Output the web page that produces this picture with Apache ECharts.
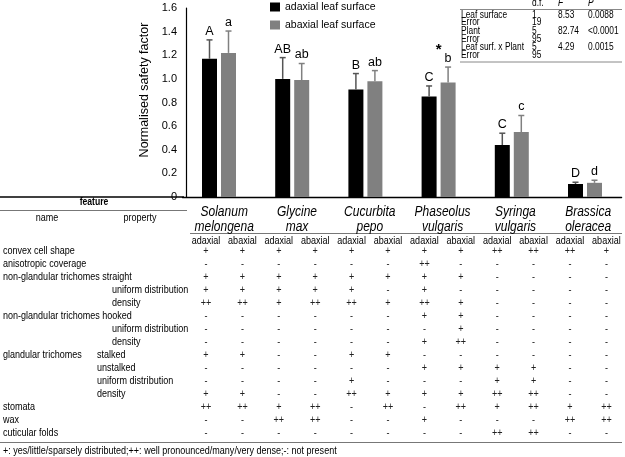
<!DOCTYPE html>
<html>
<head>
<meta charset="utf-8">
<script src="https://cdn.jsdelivr.net/npm/echarts@6/dist/echarts.min.js"></script>
<style>html,body{margin:0;padding:0;background:#fff}#c{width:625px;height:457px}</style>
</head>
<body>
<div id="c"></div>
<script>
// ---------- data ----------
const categories = ['Solanum melongena', 'Glycine max', 'Cucurbita pepo', 'Phaseolus vulgaris', 'Syringa vulgaris', 'Brassica oleracea'];
const seriesNames = ['adaxial leaf surface', 'abaxial leaf surface'];
const adaxialMean = [1.17, 1.00, 0.91, 0.85, 0.44, 0.11];
const adaxialSD   = [0.16, 0.18, 0.135, 0.09, 0.10, 0.015];
const abaxialMean = [1.22, 0.99, 0.98, 0.97, 0.55, 0.12];
const abaxialSD   = [0.185, 0.14, 0.09, 0.13, 0.14, 0.022];
const adaxialLetters = ['A', 'AB', 'B', 'C', 'C', 'D'];
const abaxialLetters = ['a', 'ab', 'ab', 'b', 'c', 'd'];
const interactionMarks = ['', '', '', '*', '', ''];
const yTicks = [0, 0.2, 0.4, 0.6, 0.8, 1.0, 1.2, 1.4, 1.6];

const anovaHeader = ['d.f.', 'F', 'P'];
const anovaSource = ['Leaf surface', 'Error', 'Plant', 'Error', 'Leaf surf. x Plant', 'Error'];
const anovaDf = ['1', '19', '5', '95', '5', '95'];
const anovaF = ['8.53', '', '82.74', '', '4.29', ''];
const anovaP = ['0.0088', '', '<0.0001', '', '0.0015', ''];

const surfaceCols = ['adaxial', 'abaxial'];
const featureNames = ['convex cell shape', 'anisotropic coverage', 'non-glandular trichomes straight', '', '',
  'non-glandular trichomes hooked', '', '', 'glandular trichomes', '', '', '', 'stomata', 'wax', 'cuticular folds'];
const featureProps = ['', '', '', 'uniform distribution', 'density', '', 'uniform distribution', 'density',
  'stalked', 'unstalked', 'uniform distribution', 'density', '', '', ''];
const featureValues = [
  ['+', '+', '+', '+', '+', '+', '+', '+', '++', '++', '++', '+'],
  ['-', '-', '-', '-', '-', '-', '++', '-', '-', '-', '-', '-'],
  ['+', '+', '+', '+', '+', '+', '+', '+', '-', '-', '-', '-'],
  ['+', '+', '+', '+', '+', '-', '+', '-', '-', '-', '-', '-'],
  ['++', '++', '+', '++', '++', '+', '++', '+', '-', '-', '-', '-'],
  ['-', '-', '-', '-', '-', '-', '+', '+', '-', '-', '-', '-'],
  ['-', '-', '-', '-', '-', '-', '-', '+', '-', '-', '-', '-'],
  ['-', '-', '-', '-', '-', '-', '+', '++', '-', '-', '-', '-'],
  ['+', '+', '-', '-', '+', '+', '-', '-', '-', '-', '-', '-'],
  ['-', '-', '-', '-', '-', '-', '+', '+', '+', '+', '-', '-'],
  ['-', '-', '-', '-', '+', '-', '-', '-', '+', '+', '-', '-'],
  ['+', '+', '-', '-', '++', '+', '+', '+', '++', '++', '-', '-'],
  ['++', '++', '+', '++', '-', '++', '-', '++', '+', '++', '+', '++'],
  ['-', '-', '++', '++', '-', '-', '+', '-', '-', '-', '++', '++'],
  ['-', '-', '-', '-', '-', '-', '-', '-', '++', '++', '-', '-']
];
const footnote = '+: yes/little/sparsely distributed;++: well pronounced/many/very dense;-: not present';

// ---------- layout / style ----------
const FONT = "'Liberation Sans', Arial, Helvetica, sans-serif";
const BAR_W = 15, BAR_GAP_PX = 4;
const OFF = (BAR_W + BAR_GAP_PX) / 2;
const colX0 = 206, colStep = 36.4;
const rowY0 = 251, rowStep = 13;
const propIndent = [0, 0, 0, 112, 112, 0, 112, 112, 97, 97, 97, 97, 0, 0, 0];

function txt(text, x, y, opt) {
  opt = opt || {};
  return {
    type: 'text', x: x, y: y, scaleX: opt.sx || 1, rotation: opt.rot || 0, silent: true, z: 10,
    style: {
      text: text, fill: opt.color || '#000',
      font: (opt.italic ? 'italic ' : '') + (opt.bold ? 'bold ' : '') + (opt.size || 10) + 'px ' + FONT,
      textAlign: opt.align || 'left', textVerticalAlign: 'middle',
      align: opt.align || 'left', verticalAlign: 'middle'
    }
  };
}
function hline(x1, x2, y, color, w) {
  return { type: 'line', silent: true, z: 5, shape: { x1: x1, y1: y, x2: x2, y2: y }, style: { stroke: color, lineWidth: w } };
}

const graphics = [];
// y axis title
graphics.push(txt('Normalised safety factor', 145, 90, { size: 12.5, align: 'center', rot: Math.PI / 2 }));
// axis baseline extension into table header
graphics.push(hline(0, 184, 197, '#000', 1.3));
// ANOVA table
const aX = [461, 532, 558, 588];
const AS = { size: 10, sx: 0.84 };
graphics.push(txt(anovaHeader[0], aX[1], 3.5, AS));
graphics.push(txt(anovaHeader[1], aX[2], 3.5, Object.assign({ italic: true }, AS)));
graphics.push(txt(anovaHeader[2], aX[3], 3.5, Object.assign({ italic: true }, AS)));
graphics.push(hline(460, 622, 9.5, '#888', 1));
const aY = [15, 22.5, 31.5, 39, 47.5, 55];
anovaSource.forEach((s, i) => {
  graphics.push(txt(s, aX[0], aY[i], AS));
  graphics.push(txt(anovaDf[i], aX[1], aY[i], AS));
  if (anovaF[i]) graphics.push(txt(anovaF[i], aX[2], aY[i], AS));
  if (anovaP[i]) graphics.push(txt(anovaP[i], aX[3], aY[i], AS));
});
graphics.push(hline(460, 622, 62, '#888', 1));

// feature table header
const TS = { size: 11, sx: 0.82 };
graphics.push(txt('feature', 94, 202, { size: 10.5, sx: 0.82, bold: true, align: 'center' }));
graphics.push(hline(0, 187, 210.5, '#777', 1));
graphics.push(txt('name', 47, 218, Object.assign({ align: 'center' }, TS)));
graphics.push(txt('property', 140, 218, Object.assign({ align: 'center' }, TS)));
categories.forEach((c, k) => {
  const parts = c.split(' ');
  const cx = colX0 + colStep * (2 * k + 0.5);
  graphics.push(txt(parts[0], cx, 212, { size: 15, sx: 0.8, italic: true, align: 'center' }));
  graphics.push(txt(parts[1], cx, 227, { size: 15, sx: 0.8, italic: true, align: 'center' }));
});
graphics.push(hline(190, 622, 233.5, '#777', 1));
for (let j = 0; j < 12; j++) {
  graphics.push(txt(surfaceCols[j % 2], colX0 + colStep * j, 240.5, Object.assign({ align: 'center' }, TS)));
}
featureValues.forEach((row, r) => {
  const y = rowY0 + rowStep * r;
  if (featureNames[r]) graphics.push(txt(featureNames[r], 3, y, TS));
  if (featureProps[r]) graphics.push(txt(featureProps[r], propIndent[r], y, TS));
  row.forEach((v, j) => {
    graphics.push(txt(v, colX0 + colStep * j, y, Object.assign({ align: 'center', color: '#222' }, TS)));
  });
});
graphics.push(hline(0, 622, 442.5, '#777', 1));
graphics.push(txt(footnote, 3, 451, TS));

// ---------- chart ----------
function errSeries(means, sds, letters, offset, color, marks) {
  return {
    type: 'custom', silent: true, z: 4,
    encode: { x: 0, y: 1 },
    data: means.map((m, i) => [i, m, sds[i]]),
    renderItem: function (params, api) {
      const i = api.value(0), m = api.value(1), sd = api.value(2);
      const base = api.coord([i, m]);
      const top = api.coord([i, m + sd]);
      const x = base[0] + offset;
      const ch = [
        { type: 'line', shape: { x1: x, y1: base[1], x2: x, y2: top[1] }, style: { stroke: color, lineWidth: 1.5 } },
        { type: 'line', shape: { x1: x - 3, y1: top[1], x2: x + 3, y2: top[1] }, style: { stroke: color, lineWidth: 1.5 } },
        { type: 'text', x: x, y: top[1] - 8.5, style: { text: letters[i], font: '12.5px ' + FONT, fill: '#000', textAlign: 'center', textVerticalAlign: 'middle', align: 'center', verticalAlign: 'middle' } }
      ];
      if (marks && marks[i]) {
        ch.push({ type: 'text', x: base[0], y: top[1] - 17, style: { text: marks[i], font: 'bold 15px ' + FONT, fill: '#000', textAlign: 'center', textVerticalAlign: 'middle', align: 'center', verticalAlign: 'middle' } });
      }
      return { type: 'group', children: ch };
    }
  };
}

const chart = echarts.init(document.getElementById('c'), null, { renderer: 'canvas' });
chart.setOption({
  animation: false,
  backgroundColor: '#fff',
  textStyle: { fontFamily: FONT },
  grid: { left: 182.4, right: 3.4, top: 8, bottom: 260, containLabel: false },
  legend: {
    data: seriesNames, orient: 'vertical', left: 270, top: 1.5, padding: 0,
    itemWidth: 10, itemHeight: 9, itemGap: 7, icon: 'rect',
    textStyle: { fontSize: 10.5, color: '#000', fontFamily: FONT }
  },
  xAxis: {
    type: 'category', data: categories,
    axisLine: { show: true, lineStyle: { color: '#000', width: 1.3 } },
    axisTick: { show: false }, axisLabel: { show: false }, splitLine: { show: false }
  },
  yAxis: {
    type: 'value', min: 0, max: 1.6, interval: 0.2, offset: -3.6,
    axisLine: { show: true, lineStyle: { color: '#000', width: 1.2 } },
    axisTick: { show: false }, splitLine: { show: false },
    axisLabel: {
      fontSize: 11, color: '#000', margin: 9, fontFamily: FONT, padding: [0, 0, 4, 0],
      formatter: v => { const t = yTicks.find(k => Math.abs(k - v) < 1e-6); return t === 0 ? '0' : (t !== undefined ? t.toFixed(1) : ''); }
    }
  },
  series: [
    { name: seriesNames[0], type: 'bar', data: adaxialMean, barWidth: BAR_W, barGap: (BAR_GAP_PX / BAR_W * 100) + '%', itemStyle: { color: '#000' }, z: 2 },
    { name: seriesNames[1], type: 'bar', data: abaxialMean, barWidth: BAR_W, itemStyle: { color: '#808080' }, z: 2 },
    errSeries(adaxialMean, adaxialSD, adaxialLetters, -OFF, '#555', null),
    errSeries(abaxialMean, abaxialSD, abaxialLetters, OFF, '#808080', interactionMarks)
  ],
  graphic: graphics
});
</script>
</body>
</html>
